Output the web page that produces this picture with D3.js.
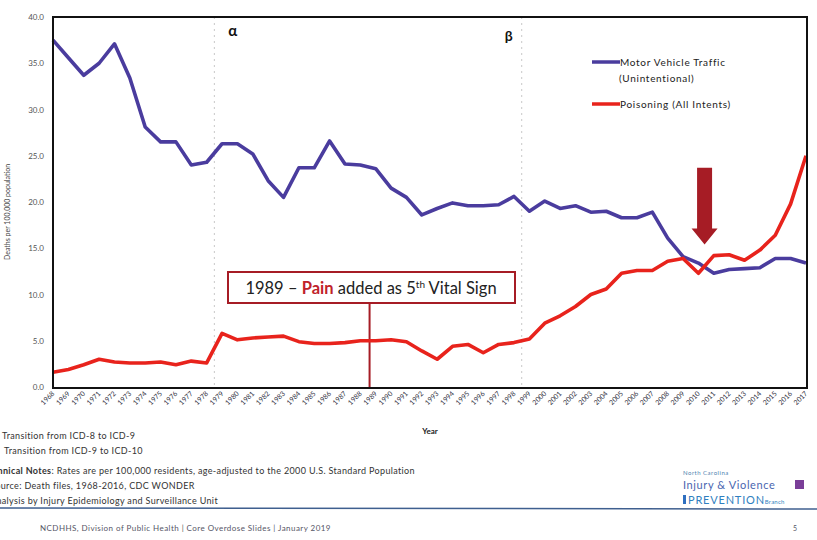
<!DOCTYPE html>
<html>
<head>
<meta charset="utf-8">
<script src="https://cdn.jsdelivr.net/npm/d3@7"></script>
<style>
  body { margin: 0; background: #fff; }
  svg { display: block; font-family: Lato, "Open Sans", sans-serif; }
</style>
</head>
<body>
<div id="chart"></div>
<script>
// Death rates per 100,000, North Carolina, 1968-2017
var years = d3.range(1968, 2018);

var motorVehicle = [
	37.5, 35.6, 33.7, 35.0, 37.1, 33.4, 28.1, 26.5, 26.5, 24.0,
	24.3, 26.3, 26.3, 25.2, 22.3, 20.5, 23.7, 23.7, 26.6, 24.1,
	24.0, 23.6, 21.5, 20.5, 18.6, 19.3, 19.9, 19.6, 19.6, 19.7,
	20.6, 19.0, 20.1, 19.3, 19.6, 18.9, 19.0, 18.3, 18.3, 18.9,
	16.1, 14.1, 13.4, 12.3, 12.7, 12.8, 12.9, 13.9, 13.9, 13.4
];

var poisoning = [
	1.6, 1.9, 2.4, 3.0, 2.7, 2.6, 2.6, 2.7, 2.4, 2.8,
	2.6, 5.8, 5.1, 5.3, 5.4, 5.5, 4.9, 4.7, 4.7, 4.8,
	5.0, 5.0, 5.1, 4.9, 3.9, 3.0, 4.4, 4.6, 3.7, 4.6,
	4.8, 5.2, 6.9, 7.7, 8.7, 10.0, 10.6, 12.3, 12.6, 12.6,
	13.6, 13.9, 12.3, 14.2, 14.3, 13.7, 14.8, 16.4, 19.8, 25.0
];

var seriesNames = ["Motor Vehicle Traffic", "Poisoning (All Intents)"];
var yTicks = [0, 5, 10, 15, 20, 25, 30, 35, 40];

// ICD transitions (drawn between years) and the pain annotation
var icdMarks = [ { year: 1978.5, label: "\u03b1" }, { year: 1998.5, label: "\u03b2" } ];
var painYear = 1988.6;
var arrowYear = 2010.4, arrowTop = 23.7, arrowTip = 15.4;

var width = 817, height = 540;
var plot = { left: 53, right: 806, top: 17, bottom: 387 };

var blue = "#4a3c9e", red = "#e8231c", darkRed = "#a61c25";

var svg = d3.select("#chart").append("svg")
	.attr("width", width)
	.attr("height", height);

var x = d3.scaleLinear().domain([1968, 2017]).range([plot.left, plot.right]);
var y = d3.scaleLinear().domain([0, 40]).range([plot.bottom, plot.top]);

// ICD dashed lines
icdMarks.forEach(function(m) {
	svg.append("line")
		.attr("x1", x(m.year)).attr("x2", x(m.year))
		.attr("y1", plot.top).attr("y2", plot.bottom)
		.style("stroke", "#c8c8c8")
		.style("stroke-width", 1)
		.style("stroke-dasharray", "2,4");
});
svg.append("text").attr("x", x(1978.5) + 14).attr("y", 36)
	.style("font-size", "15px").style("font-weight", "bold").style("fill", "#111")
	.text(icdMarks[0].label);
svg.append("text").attr("x", x(1998.5) - 17).attr("y", 41)
	.style("font-size", "14px").style("font-weight", "bold").style("fill", "#111")
	.text(icdMarks[1].label);

// y axis labels
svg.selectAll("text.ytick")
	.data(yTicks)
	.enter()
		.append("text")
		.attr("class", "ytick")
		.attr("x", 44)
		.attr("y", function(d) { return y(d) + 3; })
		.attr("text-anchor", "end")
		.style("font-size", "8px")
		.style("fill", "#555")
		.text(function(d) { return d3.format(".1f")(d); });

svg.append("text")
	.attr("transform", "translate(10," + ((plot.top + plot.bottom) / 2 + 10) + ") rotate(-90)")
	.attr("text-anchor", "middle")
	.style("font-size", "7px")
	.style("fill", "#444")
	.text("Deaths per 100,000 population");

// x axis labels (rotated)
svg.selectAll("text.xtick")
	.data(years)
	.enter()
		.append("text")
		.attr("class", "xtick")
		.attr("text-anchor", "end")
		.attr("transform", function(d) { return "translate(" + (x(d) + 2) + "," + (plot.bottom + 7) + ") rotate(-45)"; })
		.style("font-size", "7px")
		.style("fill", "#334")
		.text(function(d) { return d; });

svg.append("text").attr("x", 430).attr("y", 434)
	.attr("text-anchor", "middle")
	.style("font-size", "8px").style("font-weight", "bold").style("fill", "#222")
	.text("Year");

// Lines
var line = d3.line()
	.x(function(d, i) { return x(years[i]); })
	.y(function(d) { return y(d); });

svg.append("path")
	.datum(motorVehicle)
	.attr("d", line)
	.style("fill", "none")
	.style("stroke", blue)
	.style("stroke-width", 3.6)
	.style("stroke-linejoin", "round");

// Pain annotation line
svg.append("line")
	.attr("x1", x(painYear)).attr("x2", x(painYear))
	.attr("y1", 303).attr("y2", plot.bottom)
	.style("stroke", darkRed).style("stroke-width", 2);

svg.append("path")
	.datum(poisoning)
	.attr("d", line)
	.style("fill", "none")
	.style("stroke", red)
	.style("stroke-width", 3.6)
	.style("stroke-linejoin", "round");

// Frame
svg.append("rect")
	.attr("x", plot.left).attr("y", plot.top)
	.attr("width", plot.right - plot.left + 1)
	.attr("height", plot.bottom - plot.top + 1)
	.style("fill", "none")
	.style("stroke", "#111")
	.style("stroke-width", 2);

// Legend
var legend = svg.append("g");
[[blue, 62, [seriesNames[0], "(Unintentional)"]], [red, 104, [seriesNames[1]]]].forEach(function(l) {
	legend.append("line")
		.attr("x1", 592).attr("x2", 620)
		.attr("y1", l[1]).attr("y2", l[1])
		.style("stroke", l[0]).style("stroke-width", 3.5);
	l[2].forEach(function(t, i) {
		legend.append("text")
			.attr("x", i === 0 ? 620 : 619)
			.attr("y", l[1] + 4 + i * 16)
			.style("font-size", "10px")
			.style("letter-spacing", "0.7px")
			.style("fill", "#222")
			.text(t);
	});
});

// Pain box
svg.append("rect")
	.attr("x", 228).attr("y", 272)
	.attr("width", 287).attr("height", 31)
	.style("fill", "#fff")
	.style("stroke", darkRed)
	.style("stroke-width", 2);

var painText = svg.append("text")
	.attr("x", 371).attr("y", 294)
	.attr("text-anchor", "middle")
	.style("font-size", "16.5px")
	.style("fill", "#222");
painText.append("tspan").text("1989 \u2013 ");
painText.append("tspan").style("fill", "#c0222a").style("font-weight", "bold").text("Pain");
painText.append("tspan").text(" added as 5");
painText.append("tspan").attr("dy", -6).style("font-size", "10px").text("th");
painText.append("tspan").attr("dy", 6).text(" Vital Sign");

// Arrow at 2010
var ax = x(arrowYear), aTop = y(arrowTop), aTip = y(arrowTip), headY = aTip - 16;
svg.append("path")
	.attr("d", "M" + (ax - 7.5) + "," + aTop + "H" + (ax + 7.5) + "V" + headY +
		"H" + (ax + 13) + "L" + ax + "," + aTip + "L" + (ax - 13) + "," + headY +
		"H" + (ax - 7.5) + "Z")
	.style("fill", darkRed);

// Notes (the slide is cropped on the left, so some lines start off-page)
var noteStyle = function(sel) {
	return sel.style("font-size", "9px").style("letter-spacing", "0.35px").style("fill", "#333");
};
noteStyle(svg.append("text").attr("x", 2).attr("y", 439)).text("Transition from ICD-8 to ICD-9");
noteStyle(svg.append("text").attr("x", 4).attr("y", 454)).text("Transition from ICD-9 to ICD-10");

var tech = noteStyle(svg.append("text").attr("x", -17).attr("y", 474));
tech.append("tspan").style("font-weight", "bold").text("Technical Notes");
tech.append("tspan").text(": Rates are per 100,000 residents, age-adjusted to the 2000 U.S. Standard Population");
noteStyle(svg.append("text").attr("x", -10).attr("y", 489))
	.text("Source: Death files, 1968-2016, CDC WONDER");
noteStyle(svg.append("text").attr("x", -10).attr("y", 504))
	.text("Analysis by Injury Epidemiology and Surveillance Unit");

// Footer rule and text
svg.append("line")
	.attr("x1", 0).attr("x2", width)
	.attr("y1", 508).attr("y2", 509)
	.style("stroke", "#3f5f8f").style("stroke-width", 1.5);
svg.append("text").attr("x", 40).attr("y", 531)
	.style("font-size", "8px").style("letter-spacing", "0.45px").style("fill", "#556")
	.text("NCDHHS, Division of Public Health | Core Overdose Slides | January 2019");
svg.append("text").attr("x", 793).attr("y", 531)
	.style("font-size", "7px").style("fill", "#556")
	.text("5");

// Logo
svg.append("text").attr("x", 683).attr("y", 475)
	.style("font-size", "6px").style("fill", "#4f7fb0").style("letter-spacing", "0.5px")
	.text("North Carolina");
svg.append("text").attr("x", 683).attr("y", 489)
	.style("font-size", "11px").style("fill", "#4a66b0").style("letter-spacing", "0.6px")
	.text("Injury & Violence");
svg.append("rect").attr("x", 795).attr("y", 480).attr("width", 9).attr("height", 9)
	.style("fill", "#7a3e98");
svg.append("rect").attr("x", 683).attr("y", 495).attr("width", 3).attr("height", 9)
	.style("fill", "#2f6fc0");
var prev = svg.append("text").attr("x", 688).attr("y", 504)
	.style("font-size", "11px").style("fill", "#2f7fc0").style("letter-spacing", "0.8px");
prev.append("tspan").text("PREVENTION");
prev.append("tspan").style("font-size", "6px").style("letter-spacing", "0.2px").text("Branch");
</script>
</body>
</html>
